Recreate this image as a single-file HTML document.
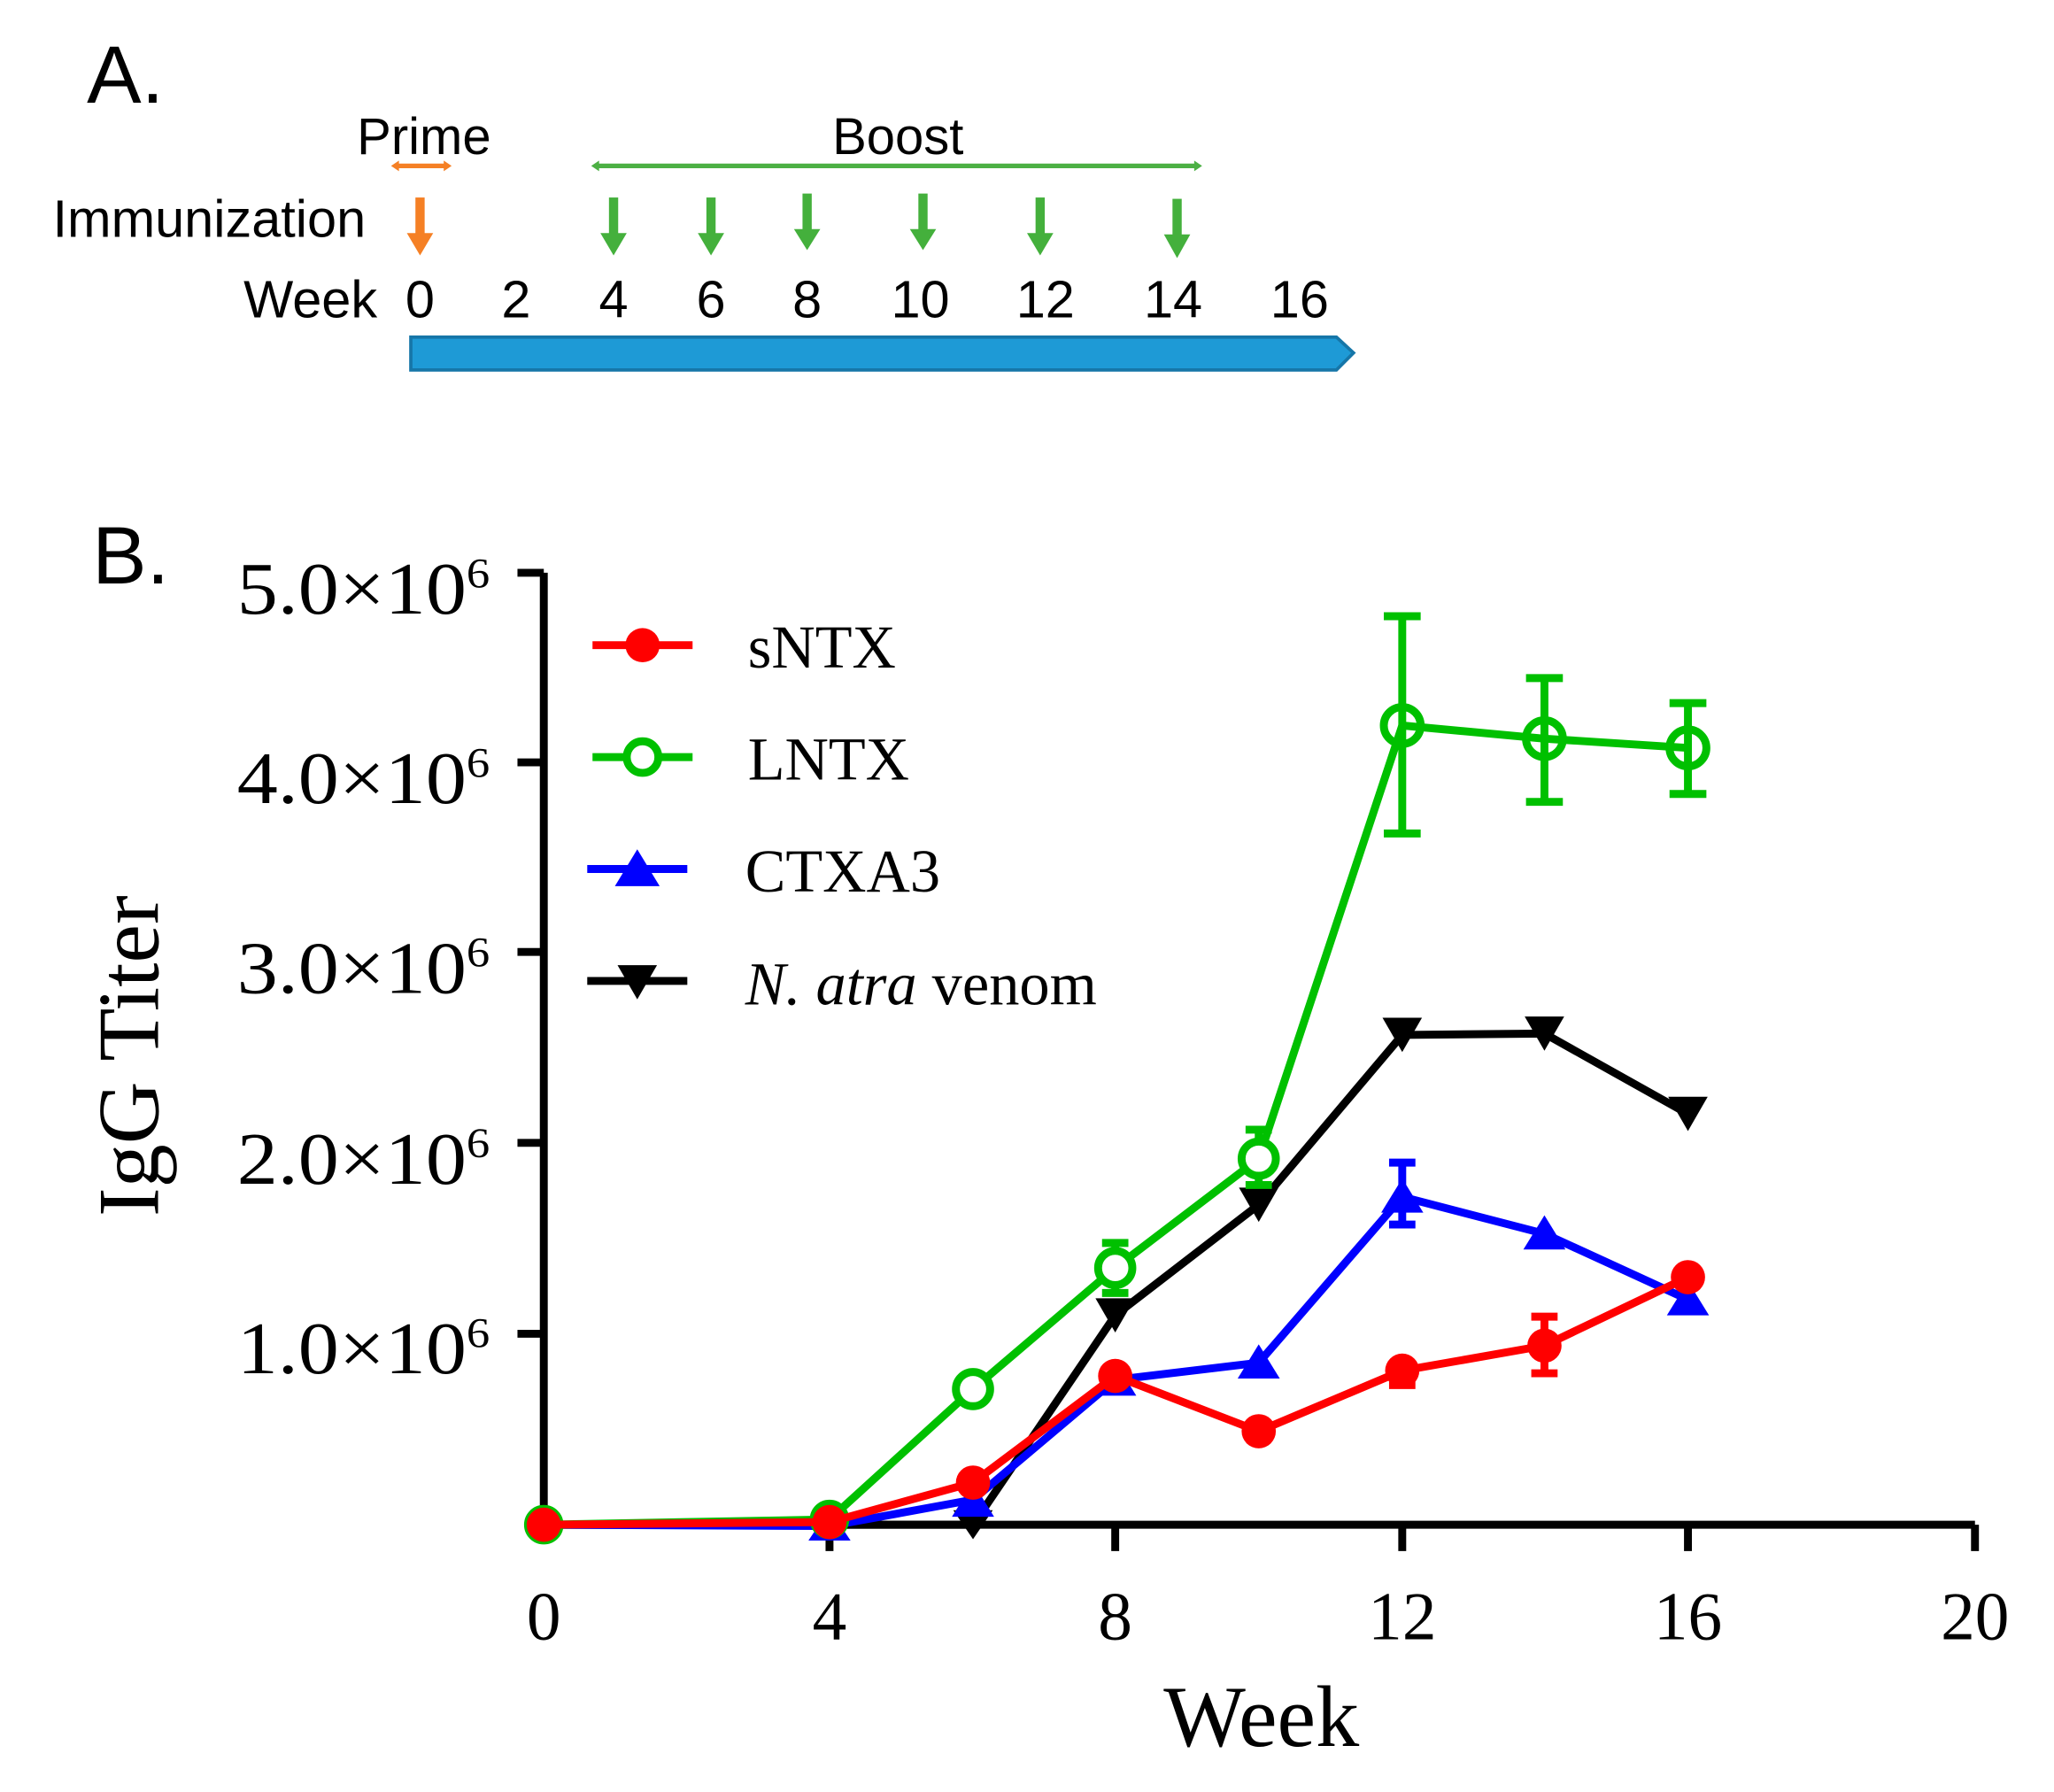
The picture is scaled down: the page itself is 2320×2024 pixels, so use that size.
<!DOCTYPE html>
<html><head><meta charset="utf-8"><style>html,body{margin:0;padding:0;background:#fff}svg{display:block}</style></head>
<body>
<svg width="2320" height="2024" viewBox="0 0 1560 1361" xmlns="http://www.w3.org/2000/svg">
<rect width="1560" height="1361" fill="#fff"/>
<!-- Part A -->
<g font-family="Liberation Sans, sans-serif" fill="#000">
<text x="66" y="78" font-size="62">A.</text>
<text x="322" y="117" font-size="39" text-anchor="middle">Prime</text>
<text x="682" y="117" font-size="39" text-anchor="middle">Boost</text>
<text x="40" y="180" font-size="40">Immunization</text>
<text x="185" y="241" font-size="40">Week</text>
<g font-size="40" text-anchor="middle">
<text x="319" y="241">0</text><text x="392" y="241">2</text><text x="466" y="241">4</text><text x="540" y="241">6</text><text x="613" y="241">8</text><text x="699" y="241">10</text><text x="794" y="241">12</text><text x="891" y="241">14</text><text x="987" y="241">16</text>
</g>
</g>
<line x1="300" y1="126" x2="340" y2="126" stroke="#f58025" stroke-width="3.5"/>
<polygon points="297,126 303,122 303,130" fill="#f58025"/><polygon points="343,126 337,122 337,130" fill="#f58025"/>
<line x1="452" y1="126" x2="910" y2="126" stroke="#4cb044" stroke-width="3.5"/>
<polygon points="449,126 455,122 455,130" fill="#4cb044"/><polygon points="913,126 907,122 907,130" fill="#4cb044"/>
<g fill="#f58025"><rect x="315.5" y="150" width="7" height="30"/><polygon points="309,177 329,177 319,194"/></g>
<g fill="#44b03c">
<rect x="462.5" y="150" width="7" height="30"/><polygon points="456,177 476,177 466,194"/>
<rect x="536.5" y="150" width="7" height="30"/><polygon points="530,177 550,177 540,194"/>
<rect x="609.5" y="147" width="7" height="30"/><polygon points="603,174 623,174 613,190"/>
<rect x="697.5" y="147" width="7" height="30"/><polygon points="691,174 711,174 701,190"/>
<rect x="786.5" y="150" width="7" height="30"/><polygon points="780,177 800,177 790,194"/>
<rect x="890.5" y="151" width="7" height="30"/><polygon points="884,178 904,178 894,196"/>
</g>
<polygon points="312,256 1015,256 1028,268 1015,281 312,281" fill="#1e9ad6" stroke="#1676a8" stroke-width="2.5"/>
<!-- Part B -->
<text x="70" y="443" font-family="Liberation Sans, sans-serif" font-size="62">B.</text>
<g font-family="Liberation Serif, serif" fill="#000">
<g font-size="56">
<text x="180" y="466" textLength="192" lengthAdjust="spacingAndGlyphs">5.0×10<tspan dy="-20" font-size="32">6</tspan></text>
<text x="180" y="610" textLength="192" lengthAdjust="spacingAndGlyphs">4.0×10<tspan dy="-20" font-size="32">6</tspan></text>
<text x="180" y="754" textLength="192" lengthAdjust="spacingAndGlyphs">3.0×10<tspan dy="-20" font-size="32">6</tspan></text>
<text x="180" y="899" textLength="192" lengthAdjust="spacingAndGlyphs">2.0×10<tspan dy="-20" font-size="32">6</tspan></text>
<text x="180" y="1043" textLength="192" lengthAdjust="spacingAndGlyphs">1.0×10<tspan dy="-20" font-size="32">6</tspan></text>
</g>
<g font-size="52" text-anchor="middle">
<text x="413" y="1245">0</text><text x="630" y="1245">4</text><text x="847" y="1245">8</text><text x="1065" y="1245">12</text><text x="1282" y="1245">16</text><text x="1500" y="1245">20</text>
</g>
<text x="958" y="1326" font-size="66" text-anchor="middle">Week</text>
<text transform="translate(120,802) rotate(-90)" font-size="66" text-anchor="middle">IgG Titer</text>
<g font-size="46">
<text x="568" y="507">sNTX</text><text x="568" y="592">LNTX</text><text x="566" y="677">CTXA3</text>
<text x="566" y="763"><tspan font-style="italic">N. atra</tspan> venom</text>
</g>
</g>
<g stroke="#000" stroke-width="6" fill="none">
<polyline points="413,435 413,1158 1500,1158"/>
<line x1="393" y1="435" x2="413" y2="435"/><line x1="393" y1="579" x2="413" y2="579"/><line x1="393" y1="723" x2="413" y2="723"/><line x1="393" y1="868" x2="413" y2="868"/><line x1="393" y1="1013" x2="413" y2="1013"/>
<line x1="630" y1="1158" x2="630" y2="1178"/><line x1="847" y1="1158" x2="847" y2="1178"/><line x1="1065" y1="1158" x2="1065" y2="1178"/><line x1="1282" y1="1158" x2="1282" y2="1178"/><line x1="1500" y1="1158" x2="1500" y2="1178"/>
</g>
<!-- legend -->
<g stroke-width="6">
<line x1="450" y1="490" x2="526" y2="490" stroke="#f00"/><circle cx="488" cy="490" r="13" fill="#f00"/>
<line x1="450" y1="575" x2="526" y2="575" stroke="#00c000"/><circle cx="488" cy="575" r="12" fill="#fff" stroke="#00c000"/>
<line x1="446" y1="660" x2="522" y2="660" stroke="#00f"/><polygon points="484,645 501,673 467,673" fill="#00f"/>
<line x1="446" y1="745" x2="522" y2="745" stroke="#000"/><polygon points="469,733 499,733 484,759" fill="#000"/>
</g>
<!-- black series -->
<g stroke="#000" stroke-width="6" fill="none">
<polyline points="413,1158 630,1158 739,1158 847,999 956,915 1065,786 1173,785 1282,846"/>
</g>
<g fill="#000">
<polygon points="832,986 862,986 847,1012"/><polygon points="941,902 971,902 956,928"/><polygon points="1050,773 1080,773 1065,799"/><polygon points="1158,772 1188,772 1173,798"/><polygon points="1267,833 1297,833 1282,859"/><polygon points="724,1147 754,1147 739,1169"/>
</g>
<!-- blue -->
<g stroke="#00f" stroke-width="6" fill="none">
<polyline points="413,1158 630,1159 739,1139 847,1048 956,1035 1065,909 1173,937 1282,987"/>
<line x1="1065" y1="883" x2="1065" y2="930"/><line x1="1055" y1="883" x2="1075" y2="883"/><line x1="1055" y1="930" x2="1075" y2="930"/>
</g>
<g fill="#00f">
<polygon points="739,1126 755,1152 723,1152"/><polygon points="847,1034 863,1060 831,1060"/><polygon points="956,1021 972,1047 940,1047"/><polygon points="1065,895 1081,921 1049,921"/><polygon points="1173,923 1189,949 1157,949"/><polygon points="1282,973 1298,999 1266,999"/><polygon points="630,1146 646,1170 614,1170"/>
</g>
<!-- green -->
<g stroke="#00c000" stroke-width="6" fill="none">
<polyline points="413,1158 630,1154 739,1055 847,963 956,880 1065,551 1173,561 1282,568"/>
<line x1="847" y1="944" x2="847" y2="982"/><line x1="837" y1="944" x2="857" y2="944"/><line x1="837" y1="982" x2="857" y2="982"/>
<line x1="956" y1="858" x2="956" y2="900"/><line x1="946" y1="858" x2="966" y2="858"/><line x1="946" y1="900" x2="966" y2="900"/>
<line x1="1065" y1="468" x2="1065" y2="633"/><line x1="1051" y1="468" x2="1079" y2="468"/><line x1="1051" y1="633" x2="1079" y2="633"/>
<line x1="1173" y1="515" x2="1173" y2="609"/><line x1="1159" y1="515" x2="1187" y2="515"/><line x1="1159" y1="609" x2="1187" y2="609"/>
<line x1="1282" y1="534" x2="1282" y2="603"/><line x1="1268" y1="534" x2="1296" y2="534"/><line x1="1268" y1="603" x2="1296" y2="603"/>
<circle cx="413" cy="1158" r="12" fill="#fff"/><circle cx="630" cy="1154" r="12" fill="#fff"/><circle cx="739" cy="1055" r="13" fill="#fff"/><circle cx="847" cy="963" r="13" fill="#fff"/><circle cx="956" cy="880" r="13" fill="#fff"/><circle cx="1065" cy="551" r="14" fill="none"/><circle cx="1173" cy="561" r="14" fill="none"/><circle cx="1282" cy="568" r="14" fill="none"/>
</g>
<!-- red -->
<g stroke="#f00" stroke-width="6" fill="none">
<polyline points="413,1158 630,1156 739,1126 847,1045 956,1087 1065,1041 1173,1022 1282,970"/>
<line x1="1065" y1="1032" x2="1065" y2="1052"/><line x1="1055" y1="1052" x2="1075" y2="1052"/>
<line x1="1173" y1="1000" x2="1173" y2="1043"/><line x1="1163" y1="1000" x2="1183" y2="1000"/><line x1="1163" y1="1043" x2="1183" y2="1043"/>
</g>
<g fill="#f00">
<circle cx="413" cy="1158" r="13"/><circle cx="630" cy="1156" r="13"/><circle cx="739" cy="1126" r="13"/><circle cx="847" cy="1045" r="13"/><circle cx="956" cy="1087" r="13"/><circle cx="1065" cy="1041" r="13"/><circle cx="1173" cy="1022" r="13"/><circle cx="1282" cy="970" r="13"/>
</g>
</svg>
</body></html>
